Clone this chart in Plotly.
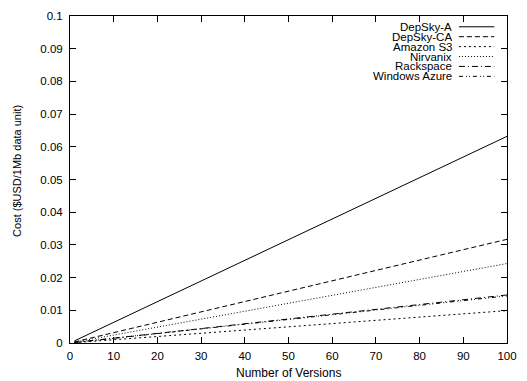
import plotly.graph_objects as go

versions = [1, 100]
series_names = ["DepSky-A", "DepSky-CA", "Amazon S3", "Nirvanix", "Rackspace", "Windows Azure"]
depsky_a = [0.00063, 0.0632]
depsky_ca = [0.00032, 0.0317]
amazon_s3 = [0.0001, 0.0099]
nirvanix = [0.00024, 0.0243]
rackspace = [0.00015, 0.0147]
windows_azure = [0.00014, 0.0144]
series_values = [depsky_a, depsky_ca, amazon_s3, nirvanix, rackspace, windows_azure]

x_ticks = [0, 10, 20, 30, 40, 50, 60, 70, 80, 90, 100]
y_ticks = [0, 0.01, 0.02, 0.03, 0.04, 0.05, 0.06, 0.07, 0.08, 0.09, 0.1]
y_tick_labels = ["0", "0.01", "0.02", "0.03", "0.04", "0.05", "0.06", "0.07", "0.08", "0.09", "0.1"]

dashes = ["solid", "5px,3px", "2px,3px", "1px,2px", "6px,3px,1px,3px", "4px,3px,1px,2px,1px,3px"]

FONT = "Liberation Sans, Arial, Helvetica, sans-serif"

fig = go.Figure()
for name, vals, d in zip(series_names, series_values, dashes):
    fig.add_trace(go.Scatter(x=versions, y=vals, mode="lines", name=name,
                             line=dict(color="black", width=1, dash=d),
                             showlegend=False, hoverinfo="skip"))

# gnuplot-style legend: text right-aligned, sample to the right
leg_y0 = 0.967
leg_dy = 10 / 330
annotations = []
shapes = []
for i, (name, d) in enumerate(zip(series_names, dashes)):
    yy = leg_y0 - i * leg_dy
    annotations.append(dict(x=0.876, y=yy, xref="paper", yref="paper", text=name,
                            showarrow=False, xanchor="right", yanchor="middle",
                            borderpad=0,
                            font=dict(family=FONT, size=11.5, color="black")))
    shapes.append(dict(type="line", xref="paper", yref="paper", x0=0.890, x1=0.971,
                       y0=yy, y1=yy, line=dict(color="black", width=1, dash=d)))

# axis titles
annotations.append(dict(x=0.5, y=-0.0909, xref="paper", yref="paper", text="Number of Versions",
                        showarrow=False, xanchor="center", yanchor="middle", borderpad=0,
                        font=dict(family=FONT, size=12, color="black")))
annotations.append(dict(x=-0.123, y=0.527, xref="paper", yref="paper", text="Cost ($USD/1Mb data unit)",
                        showarrow=False, xanchor="center", yanchor="middle", textangle=-90,
                        borderpad=0,
                        font=dict(family=FONT, size=11, color="black")))

axis_common = dict(showline=True, linecolor="black", linewidth=1, mirror="allticks",
                   ticks="inside", ticklen=6, tickcolor="black", tickwidth=1,
                   showgrid=False, zeroline=False,
                   tickfont=dict(family=FONT, size=11.5, color="black"))

fig.update_layout(
    width=527, height=381,
    margin=dict(l=70, r=10, t=13, b=38),
    paper_bgcolor="white", plot_bgcolor="white",
    font=dict(family=FONT, size=11.5, color="black"),
    xaxis=dict(range=[0, 100], tickvals=x_ticks, ticklabelstandoff=2, **axis_common),
    yaxis=dict(range=[0, 0.1], tickvals=y_ticks, ticktext=y_tick_labels, ticklabelstandoff=4,
               **axis_common),
    annotations=annotations,
    shapes=shapes,
)

fig.write_html("out.html",
               config={"displayModeBar": False, "staticPlot": True},
               post_script="document.body.style.margin='0';document.body.style.overflow='hidden';")
